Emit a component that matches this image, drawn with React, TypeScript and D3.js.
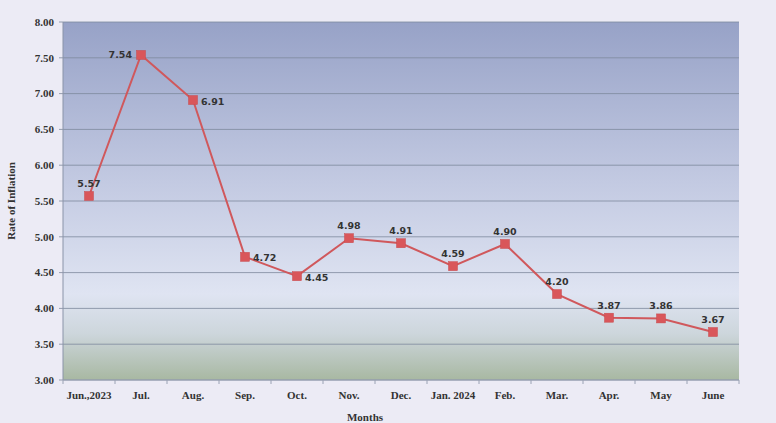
import React from "react";
import * as d3 from "d3";

const months = ["Jun.,2023", "Jul.", "Aug.", "Sep.", "Oct.", "Nov.", "Dec.", "Jan. 2024", "Feb.", "Mar.", "Apr.", "May", "June"];
const rates = [5.57, 7.54, 6.91, 4.72, 4.45, 4.98, 4.91, 4.59, 4.90, 4.20, 3.87, 3.86, 3.67];
const labelPos = ["above", "left", "right", "right", "right", "above", "above", "above", "above", "above", "above", "above", "above"];
const yTicks = [3.0, 3.5, 4.0, 4.5, 5.0, 5.5, 6.0, 6.5, 7.0, 7.5, 8.0];

const W = 776, H = 423;
const m = { left: 63, right: 37, top: 22, bottom: 43 };

export default function App() {
  const x = d3.scaleBand().domain(months).range([m.left, W - m.right]).padding(0);
  const y = d3.scaleLinear().domain([3, 8]).range([H - m.bottom, m.top]);
  const cx = (d: string) => (x(d) as number) + x.bandwidth() / 2;
  const line = d3.line<number>().x((_, i) => cx(months[i])).y((d) => y(d));
  const serif = "'Liberation Serif', 'Times New Roman', serif";
  const sans = "'DejaVu Sans', Verdana, sans-serif";
  return (
    <svg width={W} height={H} style={{ position: "absolute", left: 0, top: 0, background: "#ecebf5" }}>
      <defs>
        <linearGradient id="bg" x1="0" y1="0" x2="0" y2="1">
          <stop offset="0" stopColor="#97a2c7" />
          <stop offset="0.45" stopColor="#c3cae2" />
          <stop offset="0.76" stopColor="#dfe4f2" />
          <stop offset="0.87" stopColor="#cdd6dc" />
          <stop offset="1" stopColor="#a8b8a2" />
        </linearGradient>
      </defs>
      <rect x={0} y={0} width={W} height={H} fill="#ecebf5" />
      <rect x={m.left} y={m.top} width={W - m.left - m.right} height={H - m.top - m.bottom} fill="url(#bg)" />
      {yTicks.map((t) => (
        <g key={t}>
          <line x1={m.left - 4} x2={W - m.right} y1={y(t)} y2={y(t)} stroke="#7f8a9e" strokeWidth={1} opacity={0.8} />
          <text x={m.left - 9} y={y(t)} dy="0.35em" textAnchor="end" fontFamily={serif} fontWeight="bold" fontSize={11} fill="#333">
            {t.toFixed(2)}
          </text>
        </g>
      ))}
      <line x1={m.left} x2={m.left} y1={m.top} y2={H - m.bottom} stroke="#8a93a8" />
      <line x1={m.left} x2={W - m.right} y1={H - m.bottom} y2={H - m.bottom} stroke="#9aa2b4" />
      {months.map((d, i) => (
        <g key={d}>
          <line x1={x(d) as number} x2={x(d) as number} y1={H - m.bottom} y2={H - m.bottom + 4} stroke="#9aa2b4" />
          {i === months.length - 1 && (
            <line x1={W - m.right} x2={W - m.right} y1={H - m.bottom} y2={H - m.bottom + 4} stroke="#9aa2b4" />
          )}
          <text x={cx(d)} y={H - m.bottom + 19} textAnchor="middle" fontFamily={serif} fontWeight="bold" fontSize={11} fill="#333">
            {d}
          </text>
        </g>
      ))}
      <text x={365} y={421} textAnchor="middle" fontFamily={serif} fontWeight="bold" fontSize={11} fill="#333">Months</text>
      <text transform={`translate(15,${(m.top + H - m.bottom) / 2}) rotate(-90)`} textAnchor="middle" fontFamily={serif} fontWeight="bold" fontSize={11} fill="#333">
        Rate of Inflation
      </text>
      <path d={line(rates) as string} fill="none" stroke="#d0585c" strokeWidth={2} />
      {rates.map((v, i) => {
        const px = cx(months[i]);
        const py = y(v);
        const pos = labelPos[i];
        let tx = px, ty = py - 9, anchor = "middle";
        if (pos === "left") { tx = px - 9; ty = py + 3.5; anchor = "end"; }
        if (pos === "right") { tx = px + 8; ty = py + 4.5; anchor = "start"; }
        return (
          <g key={i}>
            <rect x={px - 4.5} y={py - 4.5} width={9} height={9} fill="#d9565a" stroke="#c84a4e" strokeWidth={0.5} />
            <text x={tx} y={ty} textAnchor={anchor} fontFamily={sans} fontWeight="bold" fontSize={9.5} fill="#333">
              {v.toFixed(2)}
            </text>
          </g>
        );
      })}
    </svg>
  );
}
